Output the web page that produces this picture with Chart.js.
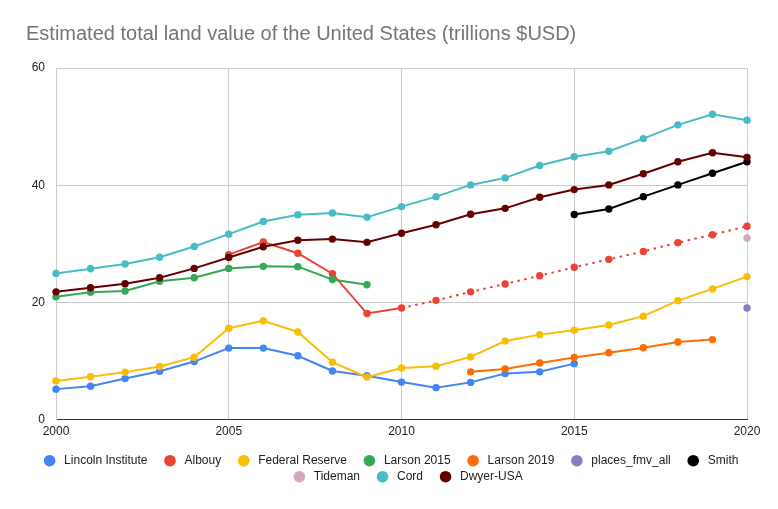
<!DOCTYPE html>
<html><head><meta charset="utf-8">
<script src="https://cdn.jsdelivr.net/npm/chart.js@4.4.0/dist/chart.umd.min.js"></script>
<style>html,body{margin:0;padding:0;background:#fff;}#wrap{width:778px;height:509px;position:relative;}</style>
</head><body><div id="wrap"><canvas id="c"></canvas></div>
<script>
const years = [2000,2001,2002,2003,2004,2005,2006,2007,2008,2009,2010,2011,2012,2013,2014,2015,2016,2017,2018,2019,2020];
const xTicks = [2000,2005,2010,2015,2020];
const yTicks = [0,20,40,60];

const lincolnInstitute = [5.2,5.7,7.0,8.25,9.9,12.2,12.2,10.9,8.3,7.5,6.4,5.45,6.35,7.85,8.15,9.55,null,null,null,null,null];
const albouy = [null,null,null,null,null,28.15,30.3,28.4,24.9,18.1,19.05,20.35,21.8,23.15,24.55,26.0,27.35,28.7,30.2,31.55,33.0];
const federalReserve = [6.6,7.3,8.1,9.05,10.65,15.6,16.85,14.95,9.8,7.25,8.8,9.1,10.7,13.4,14.5,15.25,16.15,17.65,20.3,22.3,24.4];
const larson2015 = [20.95,21.75,21.95,23.6,24.2,25.8,26.15,26.1,23.9,23.0,null,null,null,null,null,null,null,null,null,null,null];
const larson2019 = [null,null,null,null,null,null,null,null,null,null,null,null,8.15,8.65,9.65,10.6,11.4,12.25,13.25,13.65,null];
const placesFmvAll = [null,null,null,null,null,null,null,null,null,null,null,null,null,null,null,null,null,null,null,null,19.05];
const smith = [null,null,null,null,null,null,null,null,null,null,null,null,null,null,null,35.0,35.95,38.05,40.05,42.05,44.0];
const tideman = [null,null,null,null,null,null,null,null,null,null,null,null,null,null,null,null,null,null,null,null,31.0];
const cord = [24.95,25.75,26.55,27.7,29.55,31.65,33.8,34.95,35.25,34.55,36.35,38.05,40.05,41.25,43.35,44.85,45.8,47.95,50.3,52.1,51.1];
const dwyerUSA = [21.8,22.5,23.2,24.2,25.8,27.65,29.5,30.6,30.8,30.25,31.8,33.25,35.05,36.05,37.95,39.25,40.05,41.95,44.0,45.55,44.75];

const seriesNames = ["Lincoln Institute","Albouy","Federal Reserve","Larson 2015","Larson 2019","places_fmv_all","Smith","Tideman","Cord","Dwyer-USA"];
const seriesValues = [lincolnInstitute,albouy,federalReserve,larson2015,larson2019,placesFmvAll,smith,tideman,cord,dwyerUSA];
const seriesColors = ["#4285f4","#ea4335","#fbbc04","#34a853","#ff6d01","#8e7cc3","#000000","#d5a6bd","#46bdc6","#660000"];
const albouyProjectionStart = 10; // index of 2010: dotted from here on

const FONT = '"Liberation Sans", Arial, sans-serif';

const datasets = seriesNames.map((name, i) => {
  const ds = {
    label: name,
    data: years.map((yr, k) => ({x: yr, y: seriesValues[i][k]})),
    borderColor: seriesColors[i],
    backgroundColor: seriesColors[i],
    pointBackgroundColor: seriesColors[i],
    pointBorderWidth: 0,
    pointRadius: 3.7,
    pointHoverRadius: 3.7,
    borderWidth: 2,
    tension: 0,
    fill: false,
    spanGaps: false,
    clip: false,
    order: -i
  };
  if (name === "Albouy") {
    ds.segment = {
      borderDash: ctx => ctx.p0DataIndex >= albouyProjectionStart ? [2.5, 4.5] : undefined
    };
  }
  return ds;
});

const legendPlugin = {
  id: 'customLegend',
  afterDraw(chart) {
    const ctx = chart.ctx;
    ctx.save();
    ctx.font = '12px ' + FONT;
    ctx.textBaseline = 'middle';
    const items = chart.data.datasets.map(d => {
      const tw = ctx.measureText(d.label).width;
      return {text: d.label, color: d.borderColor, tw: tw, w: 14.5 + tw};
    });
    const gap = 22.5, maxW = 710;
    const rows = [];
    let row = [], w = 0;
    items.forEach(it => {
      const add = (row.length ? gap : 0) + it.w;
      if (row.length && w + add > maxW) { rows.push({row, w}); row = [it]; w = it.w; }
      else { row.push(it); w += add; }
    });
    rows.push({row, w});
    const centers = [394, 411];
    const ys = [460.7, 476.7];
    rows.forEach((r, ri) => {
      let x = (centers[ri] || 400) - r.w / 2;
      const y = ys[ri] || (460.7 + ri * 16);
      r.row.forEach(it => {
        ctx.fillStyle = it.color;
        ctx.beginPath();
        ctx.arc(x, y, 5.8, 0, Math.PI * 2);
        ctx.fill();
        ctx.fillStyle = '#222';
        ctx.textAlign = 'left';
        ctx.fillText(it.text, x + 14.5, y);
        x += it.w + gap;
      });
    });
    ctx.restore();
  }
};

new Chart(document.getElementById('c'), {
  type: 'line',
  data: {datasets},
  plugins: [legendPlugin],
  options: {
    responsive: true,
    maintainAspectRatio: false,
    animation: false,
    layout: {padding: {left: 26, right: 31, top: 0, bottom: 65}},
    plugins: {
      legend: {display: false},
      tooltip: {enabled: false},
      title: {
        display: true,
        text: 'Estimated total land value of the United States (trillions $USD)',
        align: 'start',
        color: '#757575',
        font: {family: FONT, size: 20, weight: 'normal'},
        padding: {top: 22, bottom: 22}
      }
    },
    scales: {
      x: {
        type: 'linear',
        min: 2000, max: 2020,
        afterBuildTicks: s => { s.ticks = xTicks.map(v => ({value: v})); },
        ticks: {color: '#222', font: {family: FONT, size: 12}, padding: 5, maxRotation: 0, callback: v => String(v)},
        grid: {color: '#cccccc', drawTicks: false},
        border: {color: '#333333', width: 1}
      },
      y: {
        min: 0, max: 60,
        afterBuildTicks: s => { s.ticks = yTicks.map(v => ({value: v})); },
        afterFit: s => { s.width = 30; },
        ticks: {color: '#222', font: {family: FONT, size: 12}, padding: 11},
        grid: {color: '#cccccc', drawTicks: false},
        border: {color: '#cccccc'}
      }
    }
  }
});
</script></body></html>
